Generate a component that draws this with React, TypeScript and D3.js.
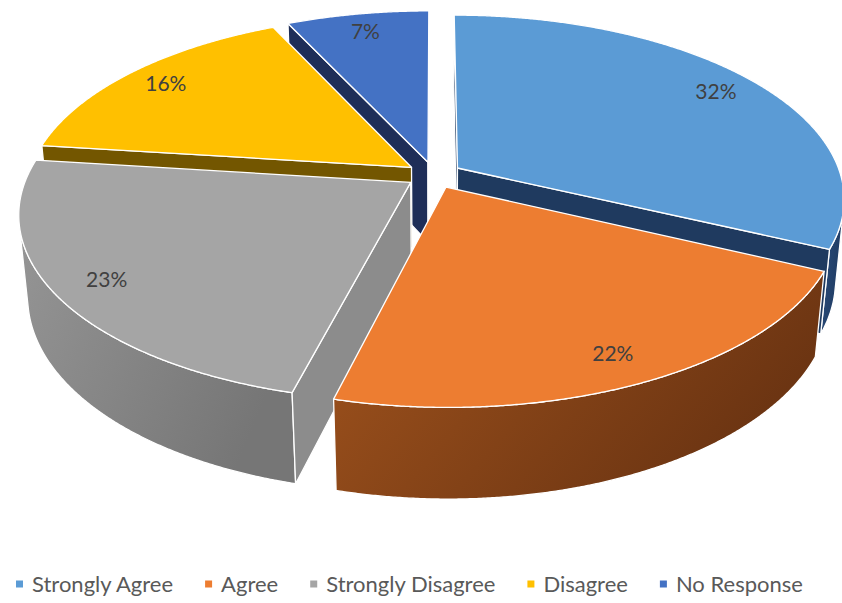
import React, { useLayoutEffect, useRef, useState } from 'react';
import * as d3 from 'd3';

// ---- data ----
const categories = ['Strongly Agree', 'Agree', 'Strongly Disagree', 'Disagree', 'No Response'];
const values = [32, 22, 23, 16, 7];
const labels = ['32%', '22%', '23%', '16%', '7%'];
const topColors = ['#5B9BD5', '#ED7D31', '#A5A5A5', '#FFC000', '#4472C4'];
const sideLight = ['#2b4e7e', '#a0531d', '#959595', '#8a6800', '#27407a'];
const sideDark = ['#1f3a60', '#6b3412', '#767676', '#6b5000', '#1c2c55'];
const radialColors = ['#1f3a5f', '#8a4515', '#8c8c8c', '#735600', '#1e2e58'];

// ---- layout / camera ----
const W = 842;
const H = 603;
const CX = 434;
const CY = 175;
const FOCAL = 2070;
const DIST = 5.4;
const SIN_A = 972 / 2070;
const COS_A = Math.sqrt(1 - SIN_A * SIN_A);
const THICK = 0.244;
const EXPLODE = 0.073;
const LABEL_R = 0.87;

function proj(X: number, Y: number, Z: number): [number, number] {
  const v = Y * COS_A + Z * SIN_A;
  const dist = DIST - Y * SIN_A + Z * COS_A;
  return [CX + (FOCAL * X) / dist, CY - (FOCAL * v) / dist];
}

const line = d3.line<[number, number]>();
const poly = (pts: [number, number][]) => (line(pts) || '') + 'Z';

type Face = { d: string; fill: string };

function buildSlice(i: number, a0: number, a1: number) {
  const mid = (a0 + a1) / 2;
  const ox = EXPLODE * Math.sin(mid);
  const oz = EXPLODE * Math.cos(mid);
  const pt = (th: number, Y: number) => proj(Math.sin(th) + ox, Y, Math.cos(th) + oz);
  const n = Math.max(2, Math.ceil((a1 - a0) / 0.005));
  const ths = d3.range(n + 1).map((k) => a0 + ((a1 - a0) * k) / n);
  const Dc = DIST * COS_A;
  const faces: Face[] = [];

  // outer curved side, front-facing runs only
  const vis = (th: number) => -1 - ox * Math.sin(th) - oz * Math.cos(th) - Dc * Math.cos(th) > 0;
  let run: number[] = [];
  const flush = () => {
    if (run.length > 1) {
      const topPts = run.map((th) => pt(th, 0));
      const botPts = run.map((th) => pt(th, -THICK)).reverse();
      faces.push({ d: poly([...topPts, ...botPts]), fill: `url(#side-grad-${i})` });
    }
    run = [];
  };
  ths.forEach((th) => {
    if (vis(th)) run.push(th);
    else flush();
  });
  flush();

  // radial faces
  const apexT = proj(ox, 0, oz);
  const apexB = proj(ox, -THICK, oz);
  const startVis = ox * Math.cos(a0) - (Dc + oz) * Math.sin(a0) > 0;
  const endVis = -ox * Math.cos(a1) + (Dc + oz) * Math.sin(a1) > 0;
  if (startVis) {
    faces.push({ d: poly([apexT, pt(a0, 0), pt(a0, -THICK), apexB]), fill: radialColors[i] });
  }
  if (endVis) {
    faces.push({ d: poly([apexT, pt(a1, 0), pt(a1, -THICK), apexB]), fill: radialColors[i] });
  }

  // top face
  const topPts = ths.map((th) => pt(th, 0));
  faces.push({ d: poly([apexT, ...topPts]), fill: topColors[i] });

  const lx = LABEL_R * Math.sin(mid) + ox;
  const lz = LABEL_R * Math.cos(mid) + oz;
  const labelPos = proj(lx, 0, lz);
  return { faces, labelPos, depthKey: Math.cos(mid) };
}

export default function App() {
  const arcs = d3.pie<number>().sort(null).value((d) => d)(values);
  const slices = arcs.map((a, i) => ({ i, ...buildSlice(i, a.startAngle, a.endAngle) }));
  const order = [...slices].sort((a, b) => b.depthKey - a.depthKey);

  const textRefs = useRef<(SVGTextElement | null)[]>([]);
  const [widths, setWidths] = useState<number[] | null>(null);
  useLayoutEffect(() => {
    setWidths(textRefs.current.map((t) => (t ? t.getComputedTextLength() : 0)));
  }, []);

  const legendY = 584;
  const markerSize = 7;
  const markerToText = 16;
  const textToMarker = 32;
  const xs: number[] = [];
  let x = 16;
  categories.forEach((_, i) => {
    xs.push(x);
    x += markerToText + (widths ? widths[i] : 100) + textToMarker;
  });

  return (
    <svg
      width={W}
      height={H}
      viewBox={`0 0 ${W} ${H}`}
      style={{ position: 'absolute', left: 0, top: 0, background: '#ffffff' }}
    >
      <defs>
        {categories.map((_, i) => (
          <linearGradient key={i} id={`side-grad-${i}`} x1="0" y1="0" x2="1" y2="0.4">
            <stop offset="0%" stopColor={sideLight[i]} />
            <stop offset="100%" stopColor={sideDark[i]} />
          </linearGradient>
        ))}
      </defs>
      <rect x={0} y={0} width={W} height={H} fill="#ffffff" />
      {order.map((s) => (
        <g key={s.i}>
          {s.faces.map((f, k) => (
            <path
              key={k}
              d={f.d}
              fill={f.fill}
              stroke="#ffffff"
              strokeWidth={1.3}
              strokeLinejoin="round"
            />
          ))}
        </g>
      ))}
      {slices.map((s) => (
        <text
          key={`l${s.i}`}
          x={s.labelPos[0]}
          y={s.labelPos[1]}
          dy="0.36em"
          textAnchor="middle"
          fontFamily="Lato, 'Open Sans', sans-serif"
          fontSize={21}
          fill="#404040"
        >
          {labels[s.i]}
        </text>
      ))}
      <g>
        {categories.map((c, i) => (
          <g key={c}>
            <rect
              x={xs[i]}
              y={legendY - markerSize / 2}
              width={markerSize}
              height={markerSize}
              fill={topColors[i]}
            />
            <text
              ref={(el) => {
                textRefs.current[i] = el;
              }}
              x={xs[i] + markerToText}
              y={legendY}
              dy="0.36em"
              fontFamily="Lato, 'Open Sans', sans-serif"
              fontSize={22}
              fill="#595959"
            >
              {c}
            </text>
          </g>
        ))}
      </g>
    </svg>
  );
}
